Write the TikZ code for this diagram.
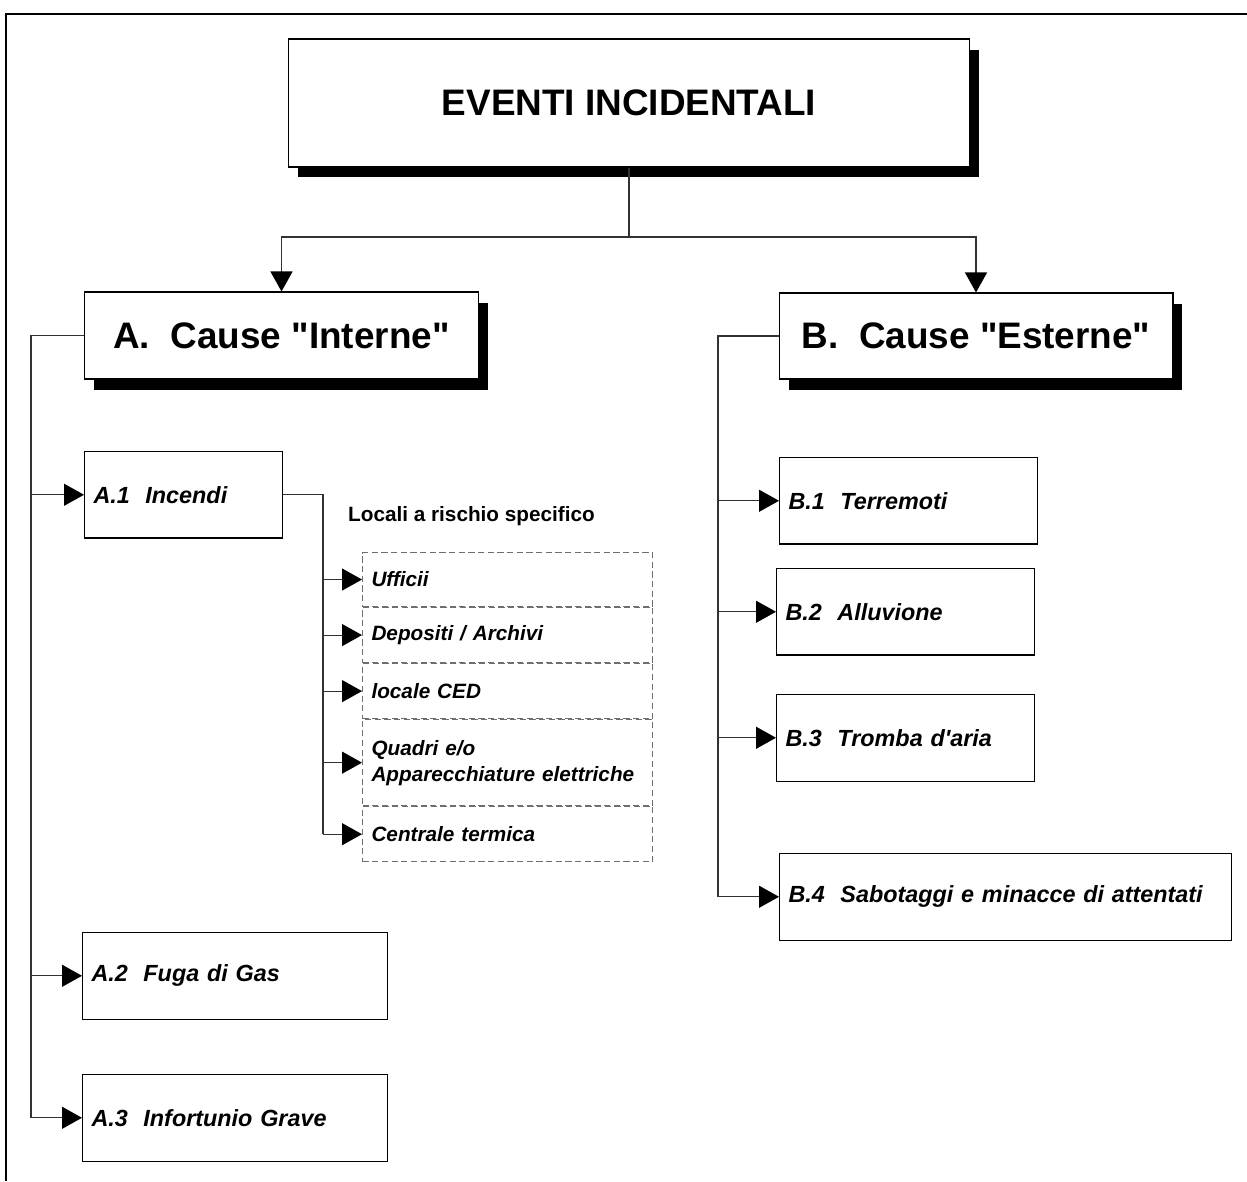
\documentclass[tikz,border=0pt]{standalone}
\usepackage{fontspec}
\setmainfont{Liberation Sans}
\usetikzlibrary{arrows.meta}
\usetikzlibrary{shadows}
\usetikzlibrary{positioning}
\definecolor{linegray}{RGB}{50,50,50}
\definecolor{dashgray}{RGB}{110,110,110}
\tikzset{%
  frameline/.style={line width=1.2pt,black},
  headbox/.style={draw,line width=0.6pt,fill=white,font=\fontsize{21}{25}\selectfont\bfseries,
    drop shadow={shadow xshift=0.19cm,shadow yshift=-0.21cm,fill=black,opacity=1}},
  causebox/.style={draw,line width=0.6pt,fill=white,anchor=north west,inner xsep=0.18cm,
    align=left,minimum height=1.73cm,font=\fontsize{13.3}{16}\selectfont\bfseries\itshape},
  roombox/.style={draw=dashgray,dash pattern=on 3.5pt off 2pt,line width=0.6pt,anchor=north west,
    inner xsep=0.18cm,align=left,text width=5.44cm,font=\fontsize{11.8}{14.8}\selectfont\bfseries\itshape},
  link/.style={linegray,line width=0.6pt},
  leadto/.style={link,-{Triangle[length=0.4cm,width=0.44cm,color=black]}}
}

\begin{document}
\begin{tikzpicture}[x=0.02cm,y=-0.02cm]
  \useasboundingbox (0,0) rectangle (1247,1181);
  \draw[frameline] (6,1181) -- (6,14) -- (1247,14);

  \node[headbox,minimum width=13.64cm,minimum height=2.56cm] (eventi) at (629,103) {EVENTI INCIDENTALI};
  \node[headbox,minimum width=7.9cm,minimum height=1.74cm] (interne) at (281.5,335.5) {A.\ \ Cause \textquotedbl Interne\textquotedbl};
  \node[headbox,minimum width=7.88cm,minimum height=1.72cm] (esterne) at (976,336) {B.\ \ Cause \textquotedbl Esterne\textquotedbl};

  % Add internal causes
  \node[causebox,text width=3.6cm] (incendi) at (84,451) {A.1\ \ Incendi};
  \node[causebox,text width=5.74cm] (fuga) at (82,932) {A.2\ \ Fuga di Gas};
  \node[causebox,text width=5.74cm] (infortunio) at (82,1074) {A.3\ \ Infortunio Grave};

  % Add rooms at specific risk
  \node[anchor=west,font=\fontsize{11.8}{14}\selectfont\bfseries] (locali) at (342,516) {Locali a rischio specifico};
  \node[roombox,minimum height=1.08cm] (ufficii) at (362,552) {Ufficii};
  \node[roombox,minimum height=1.1cm,below=0pt of ufficii] (depositi) {Depositi / Archivi};
  \node[roombox,minimum height=1.1cm,below=0pt of depositi] (locale) {locale CED};
  \node[roombox,minimum height=1.72cm,below=0pt of locale] (quadri) {Quadri e/o\\Apparecchiature elettriche};
  \node[roombox,minimum height=1.1cm,below=0pt of quadri] (centrale) {Centrale termica};

  % Add external causes
  \node[causebox,text width=4.8cm] (terremoti) at (779,457) {B.1\ \ Terremoti};
  \node[causebox,text width=4.8cm] (alluvione) at (776,568) {B.2\ \ Alluvione};
  \node[causebox,text width=4.8cm] (tromba) at (776,694) {B.3\ \ Tromba d\textquotesingle aria};
  \node[causebox,text width=8.68cm] (sabotaggi) at (779,853) {B.4\ \ Sabotaggi e minacce di attentati};

  \coordinate (fork) at (629,237);
  \coordinate (spineA) at (31,0);
  \coordinate (spineB) at (718,0);
  \coordinate (spineS) at (323,0);

  \draw[leadto] (eventi.south) -- (fork) -| (interne.north);
  \draw[leadto] (fork) -| (esterne.north);

  \draw[link] (interne.west) -| (spineA |- infortunio.west);
  \foreach \n in {incendi,fuga,infortunio}
    \draw[leadto] (spineA |- \n.west) -- (\n.west);

  \draw[link] (esterne.west) -| (spineB |- sabotaggi.west);
  \foreach \n in {terremoti,alluvione,tromba,sabotaggi}
    \draw[leadto] (spineB |- \n.west) -- (\n.west);

  \draw[link] (incendi.east) -| (spineS |- centrale.west);
  \foreach \n in {ufficii,depositi,locale,quadri,centrale}
    \draw[leadto] (spineS |- \n.west) -- (\n.west);
\end{tikzpicture}
\end{document}
